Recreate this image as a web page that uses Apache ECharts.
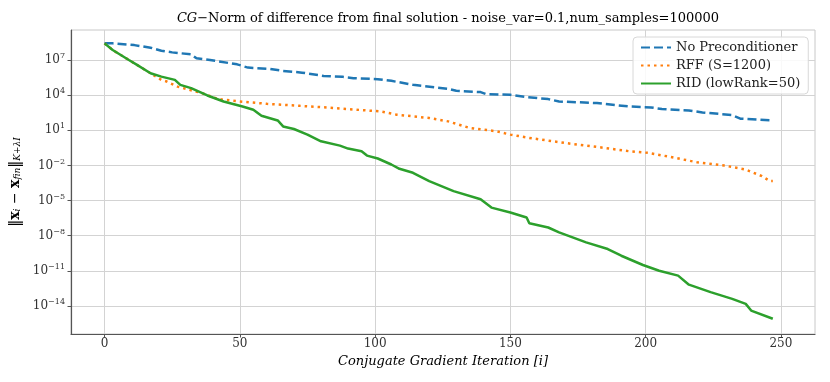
<!DOCTYPE html>
<html>
<head>
<meta charset="utf-8">
<script src="https://cdn.jsdelivr.net/npm/echarts@6/dist/echarts.min.js"></script>
<style>
  html, body { margin: 0; padding: 0; background: #fff; }
  #chart { width: 830px; height: 382px; }
</style>
</head>
<body>
<div id="chart"></div>
<script>
// values are log10 of the norm
const blueIter = [0, 3, 11, 17, 21, 25, 32, 34, 39, 49, 53, 61, 66, 73, 81, 88, 92, 101, 106, 114, 127, 130, 139, 141, 150, 156, 164, 168, 182, 194, 202, 206, 216, 221, 232, 235, 247];
const blueLog = [8.42, 8.42, 8.27, 8.05, 7.79, 7.65, 7.48, 7.14, 7.0, 6.63, 6.35, 6.24, 6.07, 5.92, 5.64, 5.56, 5.45, 5.36, 5.22, 4.88, 4.54, 4.37, 4.26, 4.09, 4.03, 3.83, 3.66, 3.46, 3.32, 3.03, 2.95, 2.81, 2.69, 2.52, 2.30, 1.99, 1.84];

const orangeIter = [0, 3, 9, 12, 17, 21, 23, 27, 29, 36, 42, 50, 60, 72, 85, 97, 102, 108, 120, 127, 135, 145, 150, 157, 170, 182, 194, 201, 209, 219, 229, 237, 243, 246, 247];
const orangeLog = [8.42, 7.85, 7.0, 6.58, 5.87, 5.30, 5.16, 4.73, 4.60, 4.17, 3.66, 3.46, 3.26, 3.09, 2.90, 2.69, 2.61, 2.33, 2.05, 1.76, 1.20, 0.91, 0.63, 0.35, -0.08, -0.42, -0.79, -0.93, -1.27, -1.73, -2.01, -2.35, -2.92, -3.34, -3.34];

const greenIter = [0, 3, 9, 12, 17, 21, 26, 28, 32, 38, 44, 51, 55, 58, 64, 66, 70, 75, 80, 87, 90, 95, 97, 101, 106, 109, 114, 120, 129, 139, 143, 150, 156, 157, 164, 168, 178, 186, 191, 199, 205, 212, 216, 224, 232, 237, 239, 247];
const greenLog = [8.42, 7.85, 7.0, 6.58, 5.87, 5.58, 5.30, 4.88, 4.60, 3.97, 3.46, 3.03, 2.75, 2.24, 1.84, 1.33, 1.11, 0.63, 0.06, -0.31, -0.56, -0.79, -1.16, -1.41, -1.92, -2.29, -2.63, -3.34, -4.19, -4.89, -5.60, -6.02, -6.45, -6.93, -7.30, -7.72, -8.57, -9.14, -9.71, -10.50, -10.99, -11.41, -12.18, -12.82, -13.39, -13.82, -14.39, -15.09];

const seriesNames = ['No Preconditioner', 'RFF (S=1200)', 'RID (lowRank=50)'];
const xTicks = [0, 50, 100, 150, 200, 250];
const yTicks = [-14, -11, -8, -5, -2, 1, 4, 7];

const serif = 'DejaVu Serif';
const pair = (xs, ys) => xs.map((x, i) => [x, ys[i]]);

const myChart = echarts.init(document.querySelector('#chart'));

const option = {
  backgroundColor: '#fff',
  animation: false,
  title: {
    text: '{i|CG}{n|\u2212Norm of difference from final solution - noise_var=0.1,num_samples=100000}',
    left: 443,
    textAlign: 'center',
    top: 7,
    textStyle: {
      fontWeight: 'normal',
      rich: {
        i: { fontFamily: serif, fontStyle: 'italic', fontWeight: 'normal', fontSize: 13, color: '#000' },
        n: { fontFamily: serif, fontWeight: 'normal', fontSize: 13, color: '#000' }
      }
    }
  },
  legend: {
    orient: 'vertical',
    left: 633,
    top: 37,
    itemWidth: 30,
    itemHeight: 10,
    itemGap: 5,
    padding: [4, 8, 4, 7],
    borderColor: '#d8d8d8',
    borderWidth: 1,
    borderRadius: 4,
    backgroundColor: 'rgba(255,255,255,0.85)',
    itemStyle: { opacity: 0 },
    textStyle: { fontFamily: serif, fontSize: 13, color: '#222' },
    data: seriesNames
  },
  grid: {
    left: 71,
    right: 15,
    top: 30,
    bottom: 48,
    outerBoundsMode: 'none',
    show: true,
    borderColor: '#c8c8c8',
    borderWidth: 1
  },
  xAxis: {
    type: 'value',
    min: -12.4,
    max: 262.6,
    name: 'Conjugate Gradient Iteration [i]',
    nameLocation: 'middle',
    nameGap: 17,
    nameTextStyle: { fontFamily: serif, fontStyle: 'italic', fontSize: 13, color: '#000' },
    axisLine: { onZero: false, lineStyle: { color: '#555', width: 1.2 } },
    axisTick: { customValues: xTicks, length: 3.5, lineStyle: { color: '#555' } },
    axisLabel: { customValues: xTicks, fontFamily: serif, fontSize: 12, color: '#333', margin: 4 },
    splitLine: { show: true, lineStyle: { color: '#d3d3d3', width: 1 } }
  },
  yAxis: {
    type: 'value',
    min: -16.39,
    max: 9.56,
    name: '\u2016{b|x}{s|i} \u2212 {b|x}{s|fin}\u2016{s|K+\u03BBI}',
    nameLocation: 'middle',
    nameGap: 34,
    nameTextStyle: {
      color: '#000',
      rich: {
        b: { fontFamily: serif, fontWeight: 'bold', fontSize: 14, color: '#000' },
        s: { fontFamily: serif, fontStyle: 'italic', fontSize: 9, color: '#000', padding: [5, 0, 0, 0] }
      },
      fontFamily: serif,
      fontSize: 14
    },
    axisLine: { show: true, onZero: false, lineStyle: { color: '#555', width: 1.2 } },
    axisTick: { show: true, customValues: yTicks, length: 3.5, lineStyle: { color: '#555' } },
    axisLabel: {
      customValues: yTicks,
      margin: 6,
      formatter: v => '{b|10}{s|' + (v < 0 ? '\u2212' + (-v) : v) + '}',
      rich: {
        b: { fontFamily: serif, fontSize: 12, color: '#333' },
        s: { fontFamily: serif, fontSize: 8, color: '#333', padding: [0, 0, 8, 0] }
      }
    },
    splitLine: { show: true, lineStyle: { color: '#d3d3d3', width: 1 } }
  },
  series: [
    {
      name: seriesNames[0],
      type: 'line',
      data: pair(blueIter, blueLog),
      showSymbol: false,
      symbol: 'none',
      lineStyle: { color: '#1f77b4', width: 2.5, type: [9, 4], cap: 'butt' },
      itemStyle: { color: '#1f77b4' }
    },
    {
      name: seriesNames[1],
      type: 'line',
      data: pair(orangeIter, orangeLog),
      showSymbol: false,
      symbol: 'none',
      lineStyle: { color: '#ff7f0e', width: 2.5, type: [2.5, 4], cap: 'butt' },
      itemStyle: { color: '#ff7f0e' }
    },
    {
      name: seriesNames[2],
      type: 'line',
      data: pair(greenIter, greenLog),
      showSymbol: false,
      symbol: 'none',
      lineStyle: { color: '#2ca02c', width: 2.5, type: 'solid' },
      itemStyle: { color: '#2ca02c' }
    }
  ]
};

myChart.setOption(option);

window.addEventListener('resize', function() {
  myChart.resize();
});
</script>
</body>
</html>
